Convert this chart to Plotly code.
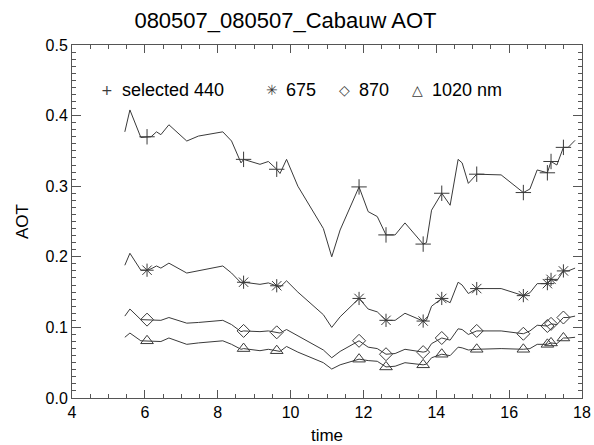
import plotly.graph_objects as go

# ---- data ----
time = [5.45, 5.59, 5.89, 6.06, 6.17, 6.32, 6.44, 6.66, 7.15, 7.47, 8.14, 8.38,
        8.64, 8.71, 9.16, 9.39, 9.62, 9.71, 9.89, 10.20, 10.90, 11.13, 11.36, 11.88,
        12.13, 12.38, 12.62, 12.87, 13.14, 13.64, 13.73, 13.87, 14.15, 14.38, 14.60,
        14.71, 14.88, 15.11, 15.78, 16.39, 16.57, 16.77, 17.05, 17.15, 17.31, 17.49,
        17.62, 17.81]
aot_440 = [0.377, 0.408, 0.369, 0.370, 0.370, 0.377, 0.373, 0.387, 0.364, 0.371, 0.377, 0.364,
           0.333, 0.338, 0.331, 0.335, 0.324, 0.318, 0.338, 0.300, 0.240, 0.200, 0.238, 0.299,
           0.264, 0.257, 0.231, 0.231, 0.248, 0.218, 0.220, 0.266, 0.290, 0.273, 0.338,
           0.333, 0.304, 0.317, 0.316, 0.291, 0.296, 0.323, 0.319, 0.335, 0.330, 0.355,
           0.355, 0.365]
aot_675 = [0.188, 0.205, 0.181, 0.181, 0.183, 0.187, 0.184, 0.191, 0.177, 0.180, 0.187, 0.177,
           0.163, 0.164, 0.161, 0.163, 0.159, 0.157, 0.166, 0.150, 0.118, 0.100, 0.115, 0.141,
           0.126, 0.122, 0.110, 0.110, 0.120, 0.109, 0.110, 0.130, 0.141, 0.135, 0.164,
           0.160, 0.148, 0.155, 0.155, 0.145, 0.149, 0.162, 0.162, 0.168, 0.166, 0.180,
           0.180, 0.184]
aot_870 = [0.116, 0.126, 0.111, 0.111, 0.110, 0.111, 0.110, 0.114, 0.106, 0.107, 0.110, 0.104,
           0.094, 0.095, 0.094, 0.095, 0.093, 0.092, 0.097, 0.088, 0.068, 0.057, 0.066, 0.081,
           0.072, 0.070, 0.062, 0.063, 0.069, 0.065, 0.066, 0.077, 0.085, 0.082, 0.098,
           0.097, 0.090, 0.095, 0.095, 0.091, 0.095, 0.103, 0.102, 0.105, 0.104, 0.114,
           0.114, 0.116]
aot_1020 = [0.086, 0.092, 0.081, 0.081, 0.080, 0.081, 0.080, 0.085, 0.076, 0.078, 0.081, 0.076,
            0.069, 0.070, 0.067, 0.069, 0.067, 0.066, 0.073, 0.065, 0.050, 0.041, 0.047, 0.055,
            0.053, 0.052, 0.044, 0.045, 0.050, 0.047, 0.048, 0.057, 0.062, 0.060, 0.072,
            0.071, 0.068, 0.069, 0.070, 0.069, 0.070, 0.076, 0.076, 0.078, 0.077, 0.085,
            0.085, 0.086]
selected = [3, 13, 16, 23, 26, 29, 32, 37, 39, 42, 43, 45]

series = [
    ("selected 440", aot_440, "cross-thin-open", 11),
    ("675", aot_675, "asterisk-open", 11),
    ("870", aot_870, "diamond-open", 10),
    ("1020 nm", aot_1020, "triangle-up-open", 11),
]

LINE = "#3a3a3a"
FONT = "Liberation Sans, Arial, Helvetica, sans-serif"

fig = go.Figure()
for name, vals, sym, size in series:
    fig.add_trace(go.Scatter(x=time, y=vals, mode="lines",
                             line=dict(color=LINE, width=1), showlegend=False,
                             hoverinfo="skip"))
    fig.add_trace(go.Scatter(x=[time[i] for i in selected], y=[vals[i] for i in selected],
                             mode="markers", name=name, showlegend=False,
                             marker=dict(symbol=sym, size=size, color=LINE,
                                         line=dict(color=LINE, width=1))))

# legend drawn as a row of text inside the plot
legend_items = [("+", 0.069, "selected 440", 0.094),
                ("\u2733", 0.392, "675", 0.416),
                ("\u25C7", 0.535, "870", 0.558),
                ("\u25B3", 0.677, "1020 nm", 0.702)]
ly = (398 - 90) / 353
for glyph, gx, label, tx in legend_items:
    fig.add_annotation(x=gx, y=ly, xref="paper", yref="paper", text=glyph,
                       showarrow=False, xanchor="center", yanchor="middle",
                       font=dict(family="DejaVu Sans", size=14, color=LINE))
    fig.add_annotation(x=tx, y=ly, xref="paper", yref="paper", text=label,
                       showarrow=False, xanchor="left", yanchor="middle",
                       font=dict(family=FONT, size=18, color="black"))

axis_common = dict(showgrid=False, zeroline=False, showline=True, linecolor="#555555",
                   linewidth=1, mirror="allticks", ticks="inside", tickcolor="#555555",
                   automargin=False,
                   tickfont=dict(family=FONT, size=16, color="black"))

fig.update_layout(
    width=594, height=445,
    margin=dict(l=72, r=12, t=45, b=47),
    paper_bgcolor="white", plot_bgcolor="white",
    title=dict(text="080507_080507_Cabauw AOT", x=0.4806, xanchor="center", y=0.954,
               yanchor="middle", font=dict(family=FONT, size=22, color="black")),
    xaxis=dict(range=[4, 18], tickvals=[4, 6, 8, 10, 12, 14, 16, 18], ticklen=8,
               minor=dict(dtick=0.5, ticks="inside", ticklen=4, tickcolor="#555555"),
               title=dict(text="time", standoff=10, font=dict(family=FONT, size=17, color="black")),
               **axis_common),
    yaxis=dict(range=[0, 0.5], tickvals=[0, 0.1, 0.2, 0.3, 0.4, 0.5], tickformat=".1f", ticklen=9,
               minor=dict(dtick=0.01, ticks="inside", ticklen=4, tickcolor="#555555"),
               title=dict(text="AOT", standoff=12, font=dict(family=FONT, size=17, color="black")),
               **axis_common),
)

fig.write_html("out.html")
